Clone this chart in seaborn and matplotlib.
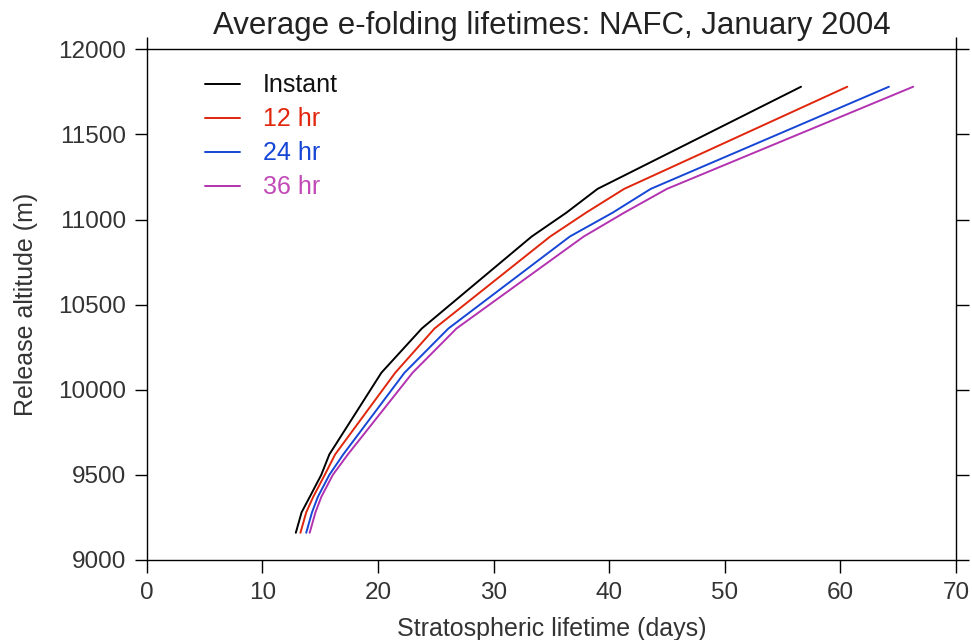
import matplotlib
matplotlib.use("Agg")
import matplotlib.pyplot as plt
import seaborn as sns
import pandas as pd
from matplotlib.lines import Line2D

# Release altitudes (m) of the trajectory starts
altitude = [9160, 9280, 9370, 9500, 9620, 10100, 10360, 10900, 11040, 11180, 11780]

# Average e-folding lifetimes (days) for each averaging window
instant = [12.9, 13.4, 14.1, 15.1, 15.8, 20.3, 23.8, 33.3, 36.3, 39.0, 56.6]
hr12    = [13.3, 13.8, 14.4, 15.4, 16.3, 21.5, 24.9, 34.9, 38.0, 41.3, 60.6]
hr24    = [13.8, 14.3, 14.8, 15.8, 17.0, 22.3, 26.1, 36.6, 40.3, 43.6, 64.2]
hr36    = [14.1, 14.6, 15.1, 16.1, 17.4, 23.0, 26.8, 37.8, 41.3, 45.0, 66.3]

series_names = ["Instant", "12 hr", "24 hr", "36 hr"]
series_vals = [instant, hr12, hr24, hr36]
line_colors = ["#000000", "#e0260c", "#1646d6", "#b232b0"]
text_colors = ["#111111", "#e0260c", "#1646d6", "#c24ab8"]

x_ticks = [0, 10, 20, 30, 40, 50, 60, 70]
y_ticks = [9000, 9500, 10000, 10500, 11000, 11500, 12000]

rows = []
for name, vals in zip(series_names, series_vals):
    for lt, alt in zip(vals, altitude):
        rows.append({"lifetime": lt, "altitude": alt, "window": name})
df = pd.DataFrame(rows)

sns.set_style("white")
plt.rcParams["font.family"] = ["Liberation Sans", "DejaVu Sans"]

fig = plt.figure(figsize=(9.72, 6.4), dpi=100)
ax = fig.add_axes([0.1509, 0.125, 0.8326, 0.798])

sns.lineplot(data=df, x="lifetime", y="altitude", hue="window",
             hue_order=series_names, palette=dict(zip(series_names, line_colors)),
             sort=False, estimator=None, linewidth=1.4, legend=False, ax=ax)

ax.set_xlim(0, 70)
ax.set_ylim(9000, 12000)
ax.set_xticks(x_ticks)
ax.set_yticks(y_ticks)

for s in ax.spines.values():
    s.set_color("black")
    s.set_linewidth(1.0)

ax.tick_params(axis="both", which="major", direction="out", length=9,
               width=1.0, color="black", labelsize=17.5, labelcolor="#333333")
ax.tick_params(axis="x", pad=7, bottom=True)
ax.tick_params(axis="y", pad=6, left=True, right=True)

# Corner ticks on the top edge
top = ax.secondary_xaxis("top")
top.set_xticks([0, 70], labels=[])
top.tick_params(direction="out", length=9, width=1.0, color="black")
top.spines["top"].set_visible(False)

ax.set_xlabel("Stratospheric lifetime (days)", fontsize=18, color="#333333", labelpad=9)
ax.set_ylabel("Release altitude (m)", fontsize=18, color="#333333", labelpad=14)
ax.set_title("Average e-folding lifetimes: NAFC, January 2004", fontsize=22.5,
             color="#222222", pad=11)

handles = [Line2D([0], [0], color=c, lw=1.4) for c in line_colors]
leg = ax.legend(handles, series_names, loc="upper left", bbox_to_anchor=(0.072, 0.953),
                frameon=False, fontsize=18, handlelength=1.4, handletextpad=0.92,
                labelspacing=0.4, borderpad=0, borderaxespad=0)
for t, c in zip(leg.get_texts(), text_colors):
    t.set_color(c)

fig.savefig("out.png", dpi=100)
